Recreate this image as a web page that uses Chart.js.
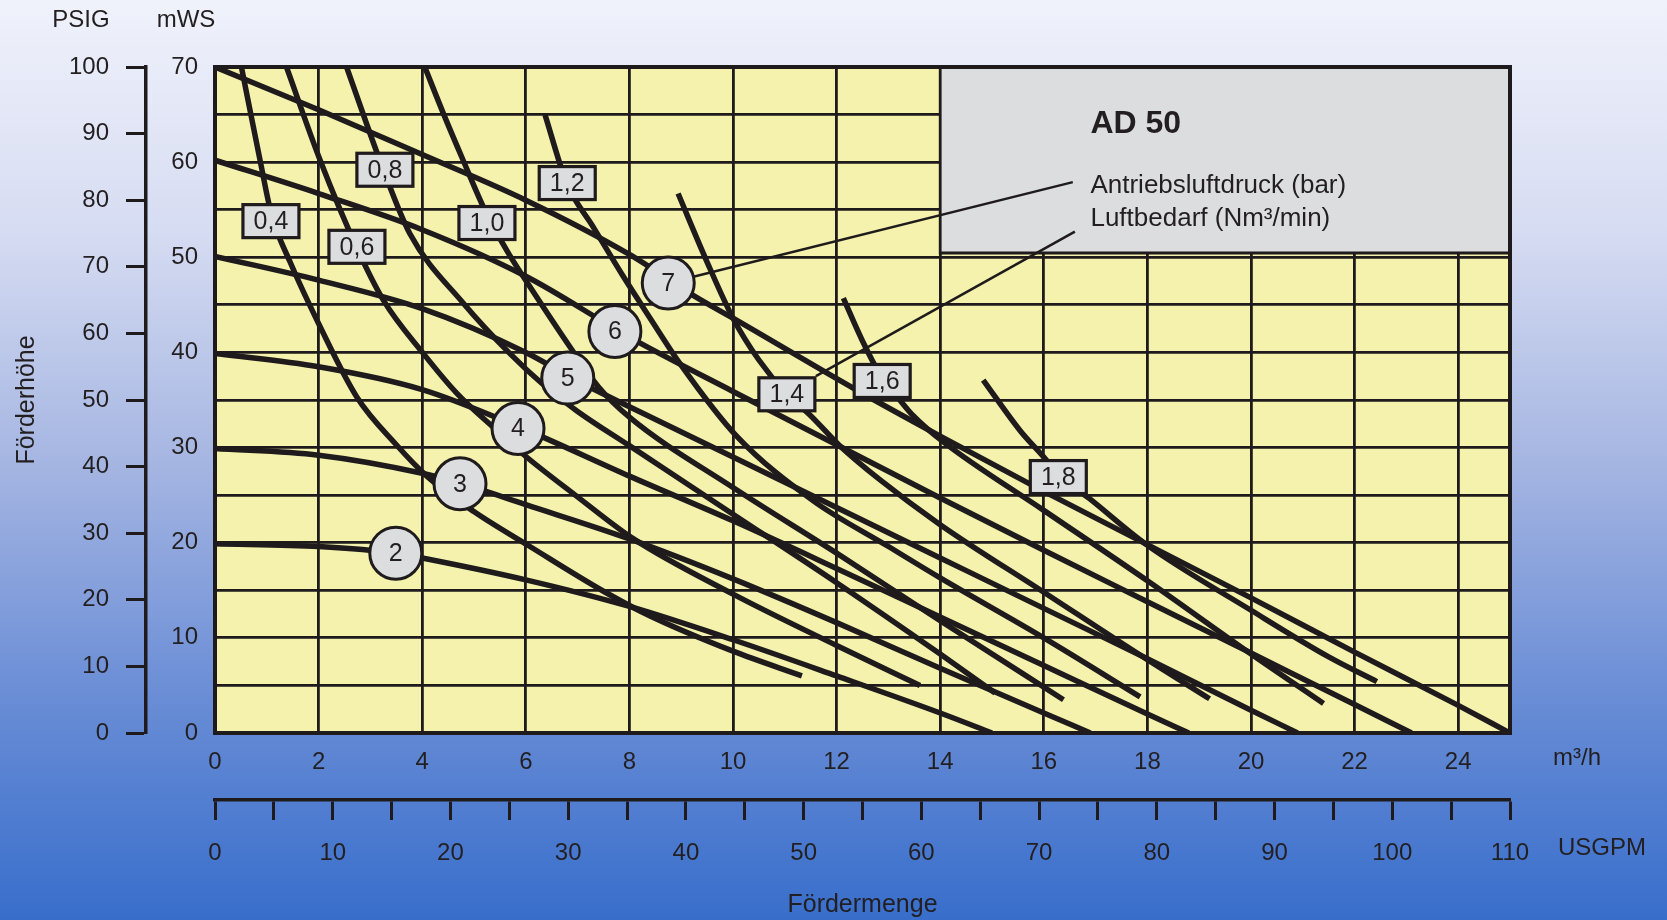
<!DOCTYPE html>
<html lang="de">
<head>
<meta charset="utf-8">
<title>AD 50 Kennlinie</title>
<script src="https://cdn.jsdelivr.net/npm/chart.js@4.4.1/dist/chart.umd.min.js"></script>
<style>
  html, body { margin: 0; padding: 0; overflow: hidden; }
  #wrap { width: 1667px; height: 920px; position: relative; }
</style>
</head>
<body>
<div id="wrap"><canvas id="chart"></canvas></div>
<script>
// Antriebsluftdruck-Kennlinien (bar): [Fördermenge m³/h, Förderhöhe mWS]
const p2 = [[0,19.9],[2,19.6],[3.5,18.9],[4,18.4],[6,16.1],[8,13.3],[10,9.8],[12,6.0],[14,2.1],[15,0]];
const p3 = [[0,29.9],[2,29.2],[4,27.3],[4.76,26.2],[6,24],[8,20.4],[10,16.2],[12,11.6],[14,6.8],[16,2.1],[16.9,0]];
const p4 = [[0,39.9],[2,38.5],[4,36.1],[5.86,32.2],[8,27],[10,22.3],[12,17.3],[14,12.2],[16,7.1],[18,2],[18.8,0]];
const p5 = [[0,50.1],[2,47.6],[4,44.6],[6,40],[7,37],[8,34.3],[10,29],[12,23.7],[14,18.4],[16,13.1],[18,7.8],[20,2.4],[20.9,0]];
const p6 = [[0,60.2],[2,56.7],[4,52.9],[6,48],[7.72,42.5],[8.2,41],[10,35.9],[12,30.3],[14,24.7],[16,19.2],[18,13.8],[20,8.4],[22,3],[23.1,0]];
const p7 = [[0,70],[2,65.5],[4,60.8],[6,56],[8,50.3],[9.23,46],[10,43.6],[12.4,36],[14,31.2],[16,25.4],[18,19.8],[20,14.2],[22,8.5],[24,2.9],[25,0]];

// Luftbedarf-Kurven (Nm³/min)
const a04 = [[0.51,70],[0.87,60.2],[1.09,54.5],[1.45,49.5],[2.03,42.7],[2.74,35.3],[3.5,30.3],[4.09,27],[4.99,23.3],[6.08,19.6],[7.5,14.9],[8.4,12.3],[10,8.6],[11.33,6.0]];
const a06 = [[1.38,70],[2.03,60.2],[2.73,51.1],[3.25,45.5],[4.02,39.9],[4.67,35.7],[5.4,32],[5.95,29.3],[6.98,24.9],[8.08,20.4],[10,14.6],[12,9.2],[13.61,5.0]];
const a08 = [[2.54,70],[3.25,59.2],[3.76,52.5],[4.79,45.2],[5.69,39.9],[6.34,36.6],[7,33.8],[8,30.2],[10,23],[12,15.8],[14,8.3],[15.06,4.2]];
const a10 = [[4.05,70],[4.41,65.1],[4.79,60.2],[5.24,54.6],[5.69,50.2],[6.08,46.9],[6.85,40.6],[7.4,36.4],[8,33.2],[10,25.8],[12,18.9],[14,11.8],[16.38,3.5]];
const a12 = [[6.37,65],[6.79,57.8],[7.3,53.2],[7.88,48],[8.4,43.6],[8.98,38.8],[10.07,31.2],[11.55,24.4],[13,19.6],[14,16.3],[16,10],[17.86,3.8]];
const a14 = [[8.94,56.7],[9.5,49.5],[10,43.6],[10.5,39.2],[11.04,35.6],[11.49,33.4],[12.06,30.2],[12.84,26.6],[14,21.9],[16,14.8],[18,7.7],[19.2,3.6]];
const a16 = [[12.13,45.7],[12.5,41.2],[12.9,37.1],[13.22,35],[13.47,33.4],[14.06,30.6],[16,23.4],[18,16],[20,8.3],[21.4,3.1]];
const a18 = [[14.83,37.1],[15.54,31.8],[16,29],[16.28,27.2],[16.89,24.6],[17.98,19.8],[20,12.9],[21.5,8],[22.43,5.4]];

// Beschriftungen
const pressureLabels = ['2', '3', '4', '5', '6', '7'];
const pressureLabelAt = [[3.49,18.9],[4.73,26.2],[5.85,32.0],[6.81,37.3],[7.72,42.2],[8.75,47.3]];
const airLabels = ['0,4', '0,6', '0,8', '1,0', '1,2', '1,4', '1,6', '1,8'];
const airLabelAt = [[1.08,53.8],[2.74,51.1],[3.28,59.2],[5.25,53.6],[6.8,57.8],[11.04,35.6],[12.88,37.0],[16.28,26.9]];

// Hinweislinien vom Legendentext
const leaderPressure = [[16.56,57.9],[8.75,47.3]];
const leaderAir = [[16.6,52.7],[11.6,37.5]];

// Legendenfeld (m³/h von-bis, mWS von-bis)
const legendFlow = [14, 25];
const legendHead = [50.45, 70];

const INK = '#1f1b1c';
const TEXT = '#231f20';
const PLOT_BG = '#f4f2ac';
const LABEL_BG = '#dcdddf';
const FONT = '"Liberation Sans", Arial, Helvetica, sans-serif';

Chart.defaults.font.family = FONT;
Chart.defaults.color = TEXT;

const toXY = pts => pts.map(([x, y]) => ({ x, y }));

const curveSet = (pts, name) => ({
  label: name,
  data: toXY(pts),
  showLine: true,
  borderColor: INK,
  borderWidth: 5.5,
  pointRadius: 0,
  cubicInterpolationMode: 'monotone',
  order: 3
});

const leaderSet = (pts) => ({
  label: 'Hinweis',
  data: toXY(pts),
  showLine: true,
  borderColor: INK,
  borderWidth: 2.5,
  pointRadius: 0,
  order: 2
});

// Hintergrund, gelbe Diagrammfläche, graues Legendenfeld, Rahmen und Texte
const decor = {
  id: 'decor',
  beforeDraw(chart) {
    const { ctx, chartArea: a, width, height } = chart;
    ctx.save();
    const g = ctx.createLinearGradient(0, 0, 0, height);
    g.addColorStop(0, '#f0f2fb');
    g.addColorStop(0.25, '#d6dcf2');
    g.addColorStop(0.5, '#a6b6e2');
    g.addColorStop(0.75, '#6b8ed6');
    g.addColorStop(1, '#386ecb');
    ctx.fillStyle = g;
    ctx.fillRect(0, 0, width, height);
    ctx.fillStyle = PLOT_BG;
    ctx.fillRect(a.left, a.top, a.right - a.left, a.bottom - a.top);
    ctx.restore();
  },
  beforeDatasetsDraw(chart) {
    const { ctx, scales: { x, y } } = chart;
    const l = x.getPixelForValue(legendFlow[0]);
    const r = x.getPixelForValue(legendFlow[1]);
    const t = y.getPixelForValue(legendHead[1]);
    const b = y.getPixelForValue(legendHead[0]);
    ctx.save();
    ctx.fillStyle = LABEL_BG;
    ctx.fillRect(l, t, r - l, b - t);
    ctx.strokeStyle = INK;
    ctx.lineWidth = 2.8;
    ctx.beginPath();
    ctx.moveTo(l, t);
    ctx.lineTo(l, b);
    ctx.lineTo(r, b);
    ctx.stroke();
    ctx.restore();
  },
  afterDatasetsDraw(chart) {
    const { ctx, chartArea: a, scales: { x, y } } = chart;
    ctx.save();
    // Rahmen
    ctx.strokeStyle = INK;
    ctx.lineWidth = 4;
    ctx.strokeRect(a.left, a.top, a.right - a.left, a.bottom - a.top);

    // Luftbedarf-Kästchen
    ctx.font = '25px ' + FONT;
    ctx.textAlign = 'center';
    ctx.textBaseline = 'middle';
    airLabels.forEach((txt, i) => {
      const px = x.getPixelForValue(airLabelAt[i][0]);
      const py = y.getPixelForValue(airLabelAt[i][1]);
      const w = 56, h = 33;
      ctx.fillStyle = LABEL_BG;
      ctx.fillRect(px - w / 2, py - h / 2, w, h);
      ctx.lineWidth = 3.2;
      ctx.strokeStyle = INK;
      ctx.strokeRect(px - w / 2, py - h / 2, w, h);
      ctx.fillStyle = TEXT;
      ctx.fillText(txt, px, py + 1);
    });

    // Druckwerte in den Kreisen
    pressureLabels.forEach((txt, i) => {
      const px = x.getPixelForValue(pressureLabelAt[i][0]);
      const py = y.getPixelForValue(pressureLabelAt[i][1]);
      ctx.fillStyle = TEXT;
      ctx.fillText(txt, px, py + 1);
    });

    // Legendentext
    const tx = x.getPixelForValue(16.9);
    ctx.textAlign = 'left';
    ctx.font = 'bold 32px ' + FONT;
    ctx.fillText('AD 50', tx, 124);
    ctx.font = '26px ' + FONT;
    ctx.fillText('Antriebsluftdruck (bar)', tx, 186);
    ctx.fillText('Luftbedarf (Nm³/min)', tx, 219);
    ctx.restore();
  },
  afterDraw(chart) {
    const { ctx } = chart;
    ctx.save();
    ctx.fillStyle = TEXT;
    ctx.font = '24px ' + FONT;
    ctx.textBaseline = 'middle';
    ctx.textAlign = 'center';
    ctx.fillText('PSIG', 81, 20);
    ctx.fillText('mWS', 186, 20);
    ctx.textAlign = 'left';
    ctx.fillText('m³/h', 1553, 758);
    ctx.fillText('USGPM', 1558, 848);
    ctx.restore();
  }
};

new Chart(document.getElementById('chart'), {
  type: 'scatter',
  data: {
    datasets: [
      {
        label: 'Antriebsluftdruck (bar)',
        data: toXY(pressureLabelAt),
        showLine: false,
        pointRadius: 26,
        pointBackgroundColor: LABEL_BG,
        pointBorderColor: INK,
        pointBorderWidth: 3,
        order: 0
      },
      leaderSet(leaderPressure),
      leaderSet(leaderAir),
      curveSet(p2, '2 bar'), curveSet(p3, '3 bar'), curveSet(p4, '4 bar'),
      curveSet(p5, '5 bar'), curveSet(p6, '6 bar'), curveSet(p7, '7 bar'),
      curveSet(a04, '0,4'), curveSet(a06, '0,6'), curveSet(a08, '0,8'), curveSet(a10, '1,0'),
      curveSet(a12, '1,2'), curveSet(a14, '1,4'), curveSet(a16, '1,6'), curveSet(a18, '1,8')
    ]
  },
  options: {
    responsive: true,
    maintainAspectRatio: false,
    animation: false,
    events: [],
    layout: { padding: { left: 0, top: 67, right: 157, bottom: 0 } },
    plugins: { legend: { display: false }, tooltip: { enabled: false } },
    scales: {
      x: {
        type: 'linear', position: 'bottom', min: 0, max: 25, weight: 0,
        afterFit: s => { s.height = 67; },
        border: { display: true, color: INK, width: 3 },
        grid: { color: INK, lineWidth: 2.8, drawTicks: false },
        ticks: { stepSize: 2, includeBounds: false, maxTicksLimit: 100, autoSkip: false, maxRotation: 0, padding: 15, font: { size: 24 } }
      },
      x2: {
        type: 'linear', position: 'bottom', min: 0, max: 110, weight: 1,
        afterFit: s => { s.height = 120; },
        border: { display: true, color: INK, width: 3.5 },
        grid: { drawOnChartArea: false, drawTicks: true, tickLength: 20, tickWidth: 3, tickColor: INK },
        ticks: { stepSize: 5, maxTicksLimit: 100, autoSkip: false, maxRotation: 0, padding: 19, font: { size: 24 },
                 callback: v => (v % 10 === 0 ? v : '') },
        title: { display: true, text: 'Fördermenge', font: { size: 25 }, padding: { top: 0, bottom: 0 } }
      },
      y: {
        type: 'linear', position: 'left', min: 0, max: 70, weight: 0,
        afterFit: s => { s.width = 69; },
        border: { display: true, color: INK, width: 3 },
        grid: { color: INK, lineWidth: 2.8, drawTicks: false },
        ticks: { stepSize: 5, maxTicksLimit: 100, autoSkip: false, padding: 17, font: { size: 24 },
                 callback: v => (v % 10 === 0 ? v : '') }
      },
      y2: {
        type: 'linear', position: 'left', min: 0, max: 100, weight: 1,
        afterFit: s => { s.width = 146; },
        border: { display: true, color: INK, width: 3.5 },
        grid: { drawOnChartArea: false, drawTicks: true, tickLength: 20, tickWidth: 3, tickColor: INK },
        ticks: { stepSize: 10, maxTicksLimit: 100, autoSkip: false, padding: 17, font: { size: 24 } },
        title: { display: true, text: 'Förderhöhe', font: { size: 25 }, padding: { top: 12, bottom: 0 } }
      }
    }
  },
  plugins: [decor]
});
</script>
</body>
</html>
